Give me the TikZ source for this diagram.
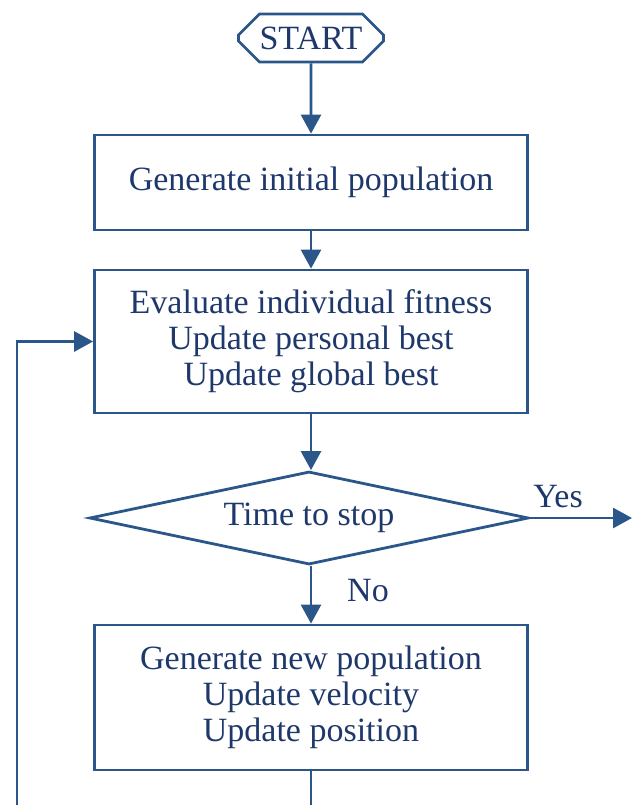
\documentclass[tikz,border=0pt]{standalone}
\usepackage{fontspec}
\setmainfont{Liberation Serif}
\usetikzlibrary{shapes.geometric, shapes.misc, arrows.meta}
\definecolor{flowline}{RGB}{42,86,138}
\definecolor{flowtext}{RGB}{30,56,108}

\begin{document}
\begin{tikzpicture}[
    x=1pt, y=-1pt,
    every node/.style={text=flowtext, font=\fontsize{34}{36}\selectfont},
    process/.style={rectangle, draw=flowline, line width=2.8pt, minimum width=433pt, align=center},
    terminal/.style={chamfered rectangle, chamfered rectangle xsep=9pt, chamfered rectangle ysep=12pt, draw=flowline, line width=2.8pt, minimum width=145pt, minimum height=48pt, inner sep=0pt},
    decision/.style={diamond, draw=flowline, line width=2.8pt, minimum width=439pt, minimum height=93pt, aspect=4.7, inner sep=0pt},
    directed/.style={-{Triangle[length=19pt, width=20pt]}, draw=flowline, line width=2.8pt},
    plain/.style={draw=flowline, line width=2.8pt}
]
    \useasboundingbox (0,0) rectangle (636,805);
    \node[terminal] (start) at (311,38) {START};
    \node[process, minimum height=95pt] (init) at (311,182.5) {Generate initial population};
    \node[process, minimum height=143pt] (eval) at (311,341.5) {Evaluate individual fitness\\Update personal best\\Update global best};
    \node[decision] (stop) at (309,518) {Time to stop};
    \node[process, minimum height=145pt] (newpop) at (311,697.5) {Generate new population\\Update velocity\\Update position};
    \node (yes) at (558,497) {Yes};
    \node (no) at (368,591) {No};
    \coordinate (yesend) at (632,518);
    \coordinate (down) at (311,806);
    \coordinate (loopstart) at (17,806);
    \draw [directed] (start) -- (init);
    \draw [directed] (init) -- (eval);
    \draw [directed] (eval) -- (eval.south |- stop.north);
    \draw [directed] (stop.east) -- (yesend);
    \draw [directed] (stop.south -| newpop.north) -- (newpop);
    \draw [plain] (newpop) -- (down);
    \draw [directed] (loopstart) |- (eval.west);
\end{tikzpicture}
\end{document}
